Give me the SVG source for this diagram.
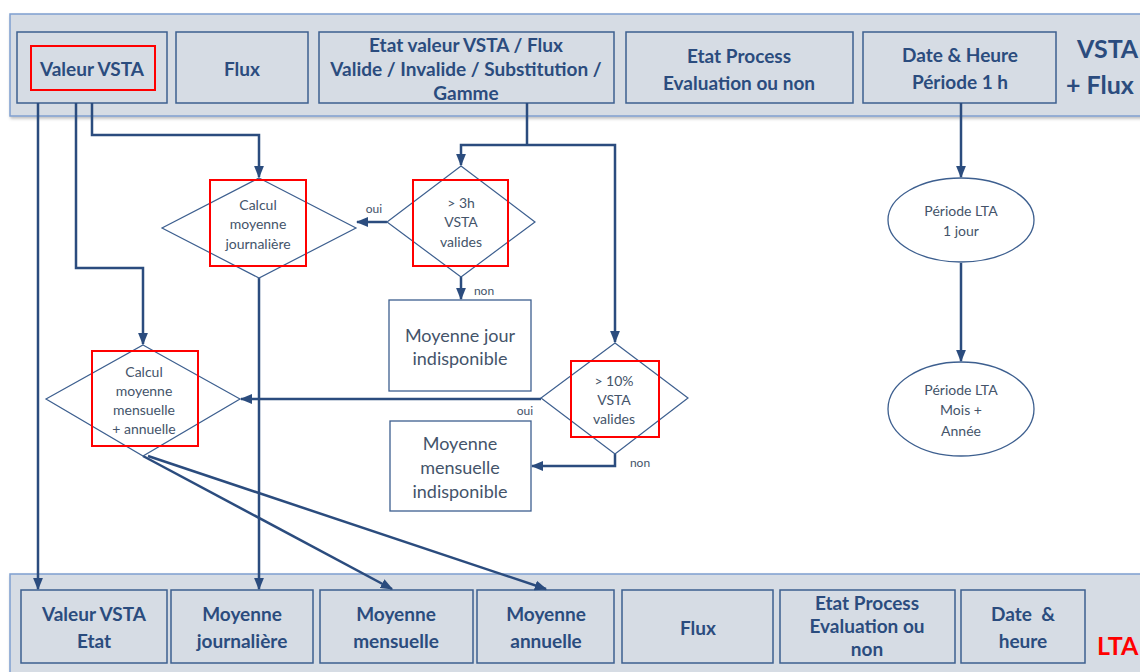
<svg xmlns="http://www.w3.org/2000/svg" width="1140" height="672" viewBox="0 0 1140 672">
<defs>
  <marker id="arr" viewBox="0 0 10 10" refX="9" refY="5" markerWidth="5" markerHeight="5" orient="auto-start-reverse" markerUnits="strokeWidth">
    <path d="M0,1 L10,5 L0,9 z" fill="#2b4c7e"/>
  </marker>
  <filter id="sh" x="-5%" y="-5%" width="110%" height="120%">
    <feDropShadow dx="1" dy="2" stdDeviation="1.5" flood-color="#000" flood-opacity="0.25"/>
  </filter>
</defs>
<style>
  .panel{fill:#d6dce4;stroke:#7f9fcf;stroke-width:1.5}
  .box{fill:#d6dce4;stroke:#3d5f8f;stroke-width:1.5}
  .wbox{fill:#fff;stroke:#3d5f8f;stroke-width:1.3}
  .dia{fill:#fff;stroke:#3d5f8f;stroke-width:1.2}
  .red{fill:none;stroke:#ff0000;stroke-width:2}
  .ln{fill:none;stroke:#2b4c7e;stroke-width:2.5}
  .arrow{marker-end:url(#arr)}
  .bt{font-family:Lato,"Liberation Sans",sans-serif;font-weight:bold;font-size:19px;fill:#2b4c7e;text-anchor:middle;dominant-baseline:central}
  .dt{font-family:Lato,"Liberation Sans",sans-serif;font-size:14px;fill:#44546a;text-anchor:middle;dominant-baseline:central}
  .mt{font-family:Lato,"Liberation Sans",sans-serif;font-size:18px;fill:#44546a;text-anchor:middle;dominant-baseline:central}
  .lb{font-family:Lato,"Liberation Sans",sans-serif;font-size:12px;fill:#44546a;text-anchor:middle;dominant-baseline:central}
  .big{font-family:Lato,"Liberation Sans",sans-serif;font-weight:bold;font-size:25px;fill:#2b4c7e;dominant-baseline:central}
</style>

<rect width="1140" height="672" fill="#fff"/>

<g id="top-panel">
  <rect class="panel" x="10" y="14" width="1140" height="102" filter="url(#sh)"/>
  <text class="big" x="1077" y="48">VSTA</text>
  <text class="big" x="1066" y="84">+ Flux</text>
</g>
<g id="t-valeur">
  <rect class="box" x="17" y="32" width="150" height="71"/>
  <rect class="red" x="31" y="46" width="124" height="44"/>
  <text class="bt" x="92" y="68">Valeur VSTA</text>
</g>
<g id="t-flux">
  <rect class="box" x="176" y="32" width="132" height="71"/>
  <text class="bt" x="242" y="68">Flux</text>
</g>
<g id="t-etat">
  <rect class="box" x="319" y="32" width="295" height="71"/>
  <text class="bt" x="466" y="44">Etat valeur VSTA / Flux</text>
  <text class="bt" x="466" y="68">Valide / Invalide / Substitution /</text>
  <text class="bt" x="466" y="92">Gamme</text>
</g>
<g id="t-process">
  <rect class="box" x="626" y="32" width="227" height="71"/>
  <text class="bt" x="739" y="55">Etat Process</text>
  <text class="bt" x="739" y="82">Evaluation ou non</text>
</g>
<g id="t-date">
  <rect class="box" x="863" y="32" width="193" height="71"/>
  <text class="bt" x="960" y="54">Date &amp; Heure</text>
  <text class="bt" x="960" y="81">Période 1 h</text>
</g>

<g id="bottom-panel">
  <rect class="panel" x="10" y="574" width="1140" height="110" filter="url(#sh)"/>
  <text class="big" x="1097" y="645" style="fill:#ff0000">LTA</text>
</g>
<g id="b-valeur">
  <rect class="box" x="21" y="590" width="146" height="73"/>
  <text class="bt" x="94" y="613">Valeur VSTA</text>
  <text class="bt" x="94" y="640">Etat</text>
</g>
<g id="b-jour">
  <rect class="box" x="171" y="590" width="142" height="73"/>
  <text class="bt" x="242" y="613">Moyenne</text>
  <text class="bt" x="242" y="640">journalière</text>
</g>
<g id="b-mens">
  <rect class="box" x="320" y="590" width="153" height="73"/>
  <text class="bt" x="396" y="613">Moyenne</text>
  <text class="bt" x="396" y="640">mensuelle</text>
</g>
<g id="b-ann">
  <rect class="box" x="477" y="590" width="137" height="73"/>
  <text class="bt" x="546" y="613">Moyenne</text>
  <text class="bt" x="546" y="640">annuelle</text>
</g>
<g id="b-flux">
  <rect class="box" x="622" y="590" width="151" height="73"/>
  <text class="bt" x="698" y="627">Flux</text>
</g>
<g id="b-process">
  <rect class="box" x="780" y="590" width="175" height="73"/>
  <text class="bt" x="867" y="602">Etat Process</text>
  <text class="bt" x="867" y="625">Evaluation ou</text>
  <text class="bt" x="867" y="648">non</text>
</g>
<g id="b-date">
  <rect class="box" x="961" y="590" width="124" height="73"/>
  <text class="bt" x="1023" y="613" xml:space="preserve">Date  &amp;</text>
  <text class="bt" x="1023" y="640">heure</text>
</g>

<g id="connectors">
  <path class="ln arrow" d="M38,103 V589"/>
  <path class="ln arrow" d="M76,103 V268 H143 V344"/>
  <path class="ln arrow" d="M92,103 V135 H259 V177"/>
  <path class="ln arrow" d="M259,278 V589"/>
  <path class="ln" d="M527,103 V145"/>
  <path class="ln arrow" d="M527,145 H461 V165"/>
  <path class="ln arrow" d="M527,145 H615 V342"/>
  <path class="ln arrow" d="M387,222 H357"/>
  <path class="ln arrow" d="M461,277 V299"/>
  <path class="ln arrow" d="M541,399 H241"/>
  <path class="ln arrow" d="M615,454 V466 H532"/>
  <path class="ln arrow" d="M143,456 L392,589"/>
  <path class="ln arrow" d="M148,456 L546,589"/>
  <path class="ln arrow" d="M961,103 V177"/>
  <path class="ln arrow" d="M961,263 V361"/>
  <text class="lb" x="374" y="208">oui</text>
  <text class="lb" x="484" y="290">non</text>
  <text class="lb" x="525" y="410">oui</text>
  <text class="lb" x="640" y="462">non</text>
</g>

<g id="d-jour">
  <polygon class="dia" points="259,178 356,228 259,278 162,228"/>
  <rect class="red" x="210" y="180" width="96" height="86"/>
  <text class="dt" x="258" y="204">Calcul</text>
  <text class="dt" x="258" y="223">moyenne</text>
  <text class="dt" x="258" y="243">journalière</text>
</g>
<g id="d-3h">
  <polygon class="dia" points="461,166 535,222 461,277 387,222"/>
  <rect class="red" x="413" y="180" width="95" height="86"/>
  <text class="dt" x="461" y="202">&gt; 3h</text>
  <text class="dt" x="461" y="221">VSTA</text>
  <text class="dt" x="461" y="241">valides</text>
</g>
<g id="d-mens">
  <polygon class="dia" points="143,345 240,399 143,456 46,399"/>
  <rect class="red" x="92" y="351" width="106" height="95"/>
  <text class="dt" x="144" y="371">Calcul</text>
  <text class="dt" x="144" y="390">moyenne</text>
  <text class="dt" x="144" y="409">mensuelle</text>
  <text class="dt" x="144" y="428">+ annuelle</text>
</g>
<g id="d-10">
  <polygon class="dia" points="615,343 688,398 615,454 541,398"/>
  <rect class="red" x="571" y="361" width="88" height="76"/>
  <text class="dt" x="614" y="380">&gt; 10%</text>
  <text class="dt" x="614" y="399">VSTA</text>
  <text class="dt" x="614" y="418">valides</text>
</g>
<g id="m-jour">
  <rect class="wbox" x="389" y="300" width="142" height="91"/>
  <text class="mt" x="460" y="335">Moyenne jour</text>
  <text class="mt" x="460" y="358">indisponible</text>
</g>
<g id="m-mens">
  <rect class="wbox" x="390" y="421" width="141" height="90"/>
  <text class="mt" x="460" y="443">Moyenne</text>
  <text class="mt" x="460" y="467">mensuelle</text>
  <text class="mt" x="460" y="491">indisponible</text>
</g>
<g id="e-jour">
  <ellipse class="wbox" cx="961" cy="220" rx="73" ry="42"/>
  <text class="dt" x="961" y="210">Période LTA</text>
  <text class="dt" x="961" y="230">1 jour</text>
</g>
<g id="e-mois">
  <ellipse class="wbox" cx="961" cy="409" rx="73" ry="47"/>
  <text class="dt" x="961" y="389">Période LTA</text>
  <text class="dt" x="961" y="409">Mois +</text>
  <text class="dt" x="961" y="430">Année</text>
</g>
</svg>
